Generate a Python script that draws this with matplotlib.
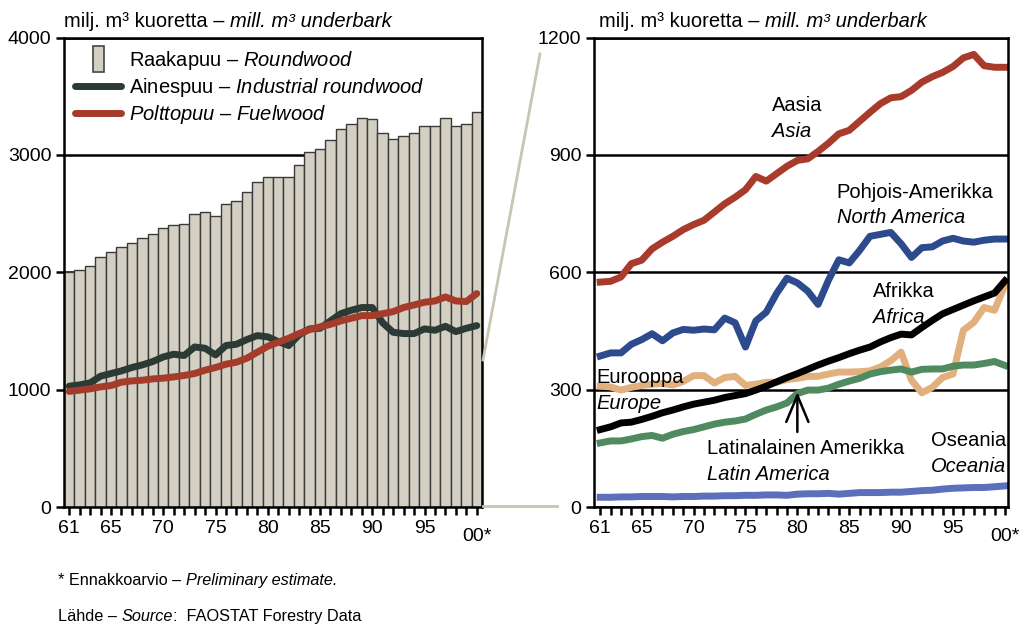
import matplotlib
matplotlib.use("Agg")
import matplotlib.pyplot as plt
from matplotlib.lines import Line2D
from matplotlib.patches import Rectangle
from matplotlib.container import BarContainer
from matplotlib.legend_handler import HandlerPatch
from matplotlib.transforms import ScaledTranslation

plt.rcParams['font.family'] = ['Liberation Sans', 'DejaVu Sans']
plt.rcParams['mathtext.fontset'] = 'custom'
plt.rcParams['mathtext.rm'] = 'Liberation Sans'
plt.rcParams['mathtext.it'] = 'Liberation Sans:italic'

years = list(range(1961, 2001))

# left chart: world totals
roundwood = [2000, 2023, 2057, 2133, 2170, 2218, 2252, 2292, 2329, 2380,
             2406, 2414, 2499, 2513, 2482, 2584, 2604, 2683, 2768, 2811,
             2811, 2808, 2913, 3024, 3050, 3129, 3217, 3260, 3313, 3310,
             3191, 3134, 3160, 3186, 3243, 3245, 3316, 3243, 3265, 3370]
industrial = [1030, 1041, 1058, 1115, 1138, 1160, 1189, 1211, 1240, 1279,
              1302, 1291, 1364, 1353, 1296, 1376, 1387, 1427, 1461, 1450,
              1410, 1376, 1467, 1518, 1523, 1586, 1648, 1677, 1700, 1700,
              1569, 1489, 1478, 1478, 1518, 1506, 1540, 1495, 1523, 1546]
fuelwood = [985, 996, 1007, 1024, 1035, 1064, 1075, 1081, 1092, 1098,
            1109, 1121, 1138, 1166, 1189, 1217, 1234, 1268, 1319, 1370,
            1404, 1438, 1478, 1512, 1535, 1557, 1586, 1609, 1631, 1631,
            1648, 1665, 1700, 1722, 1745, 1756, 1790, 1756, 1751, 1819]

# right chart: by region
asia = [575, 577, 588, 622, 631, 660, 677, 692, 709, 722,
        733, 754, 775, 792, 811, 845, 833, 852, 871, 886,
        890, 909, 930, 954, 963, 986, 1009, 1031, 1046, 1049,
        1065, 1086, 1100, 1111, 1126, 1148, 1157, 1128, 1124, 1124]
north_america = [386, 394, 394, 416, 428, 443, 425, 445, 454, 452,
                 455, 453, 483, 471, 409, 476, 498, 546, 585, 573,
                 552, 518, 580, 632, 624, 656, 692, 697, 702, 673,
                 638, 663, 665, 680, 687, 680, 677, 682, 685, 685]
africa = [198, 205, 215, 217, 224, 232, 241, 248, 256, 263,
          268, 273, 280, 285, 290, 299, 309, 320, 331, 341,
          352, 363, 373, 382, 392, 401, 409, 422, 433, 442,
          440, 459, 477, 494, 505, 516, 527, 537, 547, 578]
europe = [309, 307, 299, 306, 311, 314, 316, 312, 321, 336,
          336, 317, 331, 334, 311, 314, 319, 319, 326, 329,
          334, 334, 340, 345, 345, 346, 348, 358, 374, 396,
          324, 292, 306, 331, 340, 452, 472, 510, 503, 567]
latin_america = [164, 169, 169, 174, 180, 183, 176, 186, 193, 198,
                 205, 212, 217, 220, 225, 237, 248, 256, 266, 290,
                 299, 299, 304, 314, 322, 329, 340, 346, 350, 353,
                 345, 352, 353, 353, 360, 363, 363, 367, 372, 362]
oceania = [25, 25, 26, 26, 27, 27, 27, 26, 27, 27,
           28, 28, 29, 29, 30, 30, 31, 31, 30, 33,
           34, 34, 35, 33, 35, 37, 37, 37, 38, 38,
           40, 42, 43, 46, 48, 49, 50, 50, 52, 54]

tick_years = [1961, 1965, 1970, 1975, 1980, 1985, 1990, 1995, 2000]
tick_labels = ["61", "65", "70", "75", "80", "85", "90", "95", "00*"]

BAR = "#d3d0c3"
DARK = "#2c3a35"
RED = "#a43b2b"
FS = 14.5


class TallBarHandler(HandlerPatch):
    # narrow upright box like the original legend key
    def create_artists(self, legend, orig_handle, xdescent, ydescent,
                       width, height, fontsize, trans):
        w = width * 0.24
        r = Rectangle((width * 0.5 - w / 2 - xdescent, -ydescent - height * 0.45),
                      w, height * 1.85, facecolor=BAR, edgecolor="#444444",
                      lw=1.2, transform=trans)
        return [r]


def style_axes(ax):
    for s in ax.spines.values():
        s.set_linewidth(1.8)
        s.set_color("black")
    ax.tick_params(axis="both", direction="out", length=6, width=1.8,
                   labelsize=14, pad=3)
    ax.set_xticks(years, minor=True)
    ax.set_xticks(tick_years)
    ax.set_xticklabels(tick_labels)
    ax.tick_params(axis="x", which="minor", length=6, width=1.8)
    lab = ax.get_xticklabels()[-1]
    lab.set_transform(lab.get_transform() +
                      ScaledTranslation(0, -6 / 72, ax.figure.dpi_scale_trans))
    ax.yaxis.grid(True, color="black", lw=1.8)
    ax.set_axisbelow(True)


def mixed_text(fig, x, y, parts, size):
    # parts: list of (string, style); placed one after another on a line
    renderer = fig.canvas.get_renderer()
    for s, st in parts:
        t = fig.text(x, y, s, fontsize=size, style=st, ha="left", va="baseline")
        bb = t.get_window_extent(renderer)
        x = fig.transFigure.inverted().transform((bb.x1, bb.y0))[0]


fig = plt.figure(figsize=(10.19, 6.26), dpi=100)
ax1 = fig.add_axes([0.0628, 0.190, 0.4102, 0.750])
ax2 = fig.add_axes([0.5829, 0.190, 0.4063, 0.750])

# left chart
bars = ax1.bar(years, roundwood, width=1.0, color=BAR, edgecolor="#3a3a3a",
               lw=1.0, zorder=2)
l_ind, = ax1.plot(years, industrial, color=DARK, lw=5, solid_capstyle="round",
                  zorder=3)
l_fuel, = ax1.plot(years, fuelwood, color=RED, lw=5, solid_capstyle="round",
                   zorder=3)
ax1.set_xlim(1960.5, 2000.5)
ax1.set_ylim(0, 4000)
ax1.set_yticks([0, 1000, 2000, 3000, 4000])
style_axes(ax1)
ax1.legend([bars, l_ind, l_fuel],
           ["Raakapuu – $\\it{Roundwood}$",
            "Ainespuu – $\\it{Industrial\\ roundwood}$",
            "$\\it{Polttopuu}$ – $\\it{Fuelwood}$"],
           loc="upper left", frameon=False, fontsize=FS,
           handlelength=2.3, handletextpad=0.4, labelspacing=0.22,
           borderpad=0.3, borderaxespad=0.25,
           handler_map={BarContainer: TallBarHandler()})

# right chart
ax2.plot(years, asia, color="#a83b2b", lw=5)
ax2.plot(years, north_america, color="#2d4b8c", lw=5)
ax2.plot(years, europe, color="#e2b07c", lw=5)
ax2.plot(years, latin_america, color="#4f8a60", lw=5)
ax2.plot(years, africa, color="black", lw=5)
ax2.plot(years, oceania, color="#5b6fba", lw=5)
ax2.set_xlim(1960.4, 2000.3)
ax2.set_ylim(0, 1200)
ax2.set_yticks([0, 300, 600, 900, 1200])
style_axes(ax2)

region_labels = [
    ("Aasia", "Asia", 1977.6, 1026, "left"),
    ("Pohjois-Amerikka", "North America", 1983.8, 805, "left"),
    ("Afrikka", "Africa", 1987.3, 550, "left"),
    ("Eurooppa", "Europe", 1960.6, 330, "left"),
    ("Latinalainen Amerikka", "Latin America", 1971.3, 150, "left"),
    ("Oseania", "Oceania", 2000.1, 170, "right"),
]
for fi, en, x, y, ha in region_labels:
    ax2.text(x, y, fi, fontsize=FS, ha=ha, va="center", zorder=5)
    ax2.text(x, y - 66, en, fontsize=FS, ha=ha, va="center",
             style="italic", zorder=5)
ax2.annotate("", xy=(1980, 294), xytext=(1980, 192),
             arrowprops=dict(arrowstyle="->,head_width=0.25,head_length=0.6",
                             color="black", lw=1.8, mutation_scale=32,
                             shrinkA=0, shrinkB=0))

# unit titles
for x0 in (0.0628, 0.5878):
    mixed_text(fig, x0, 0.957, [("milj. m³ kuoretta – ", "normal"),
                                ("mill. m³ underbark", "italic")], FS)

# connector lines between the charts
W, H = 1019.0, 626.0
fig.add_artist(Line2D([483 / W, 540 / W], [1 - 360 / H, 1 - 54 / H],
                      color="#c8c5b2", lw=2))
fig.add_artist(Line2D([483 / W, 557 / W], [1 - 506 / H, 1 - 506 / H],
                      color="#c8c5b2", lw=2))

mixed_text(fig, 0.057, 0.066, [("* Ennakkoarvio – ", "normal"),
                               ("Preliminary estimate.", "italic")], 11.7)
mixed_text(fig, 0.057, 0.008, [("Lähde – ", "normal"), ("Source", "italic"),
                               (":  FAOSTAT Forestry Data", "normal")], 11.7)

fig.savefig("out.png", dpi=100)
